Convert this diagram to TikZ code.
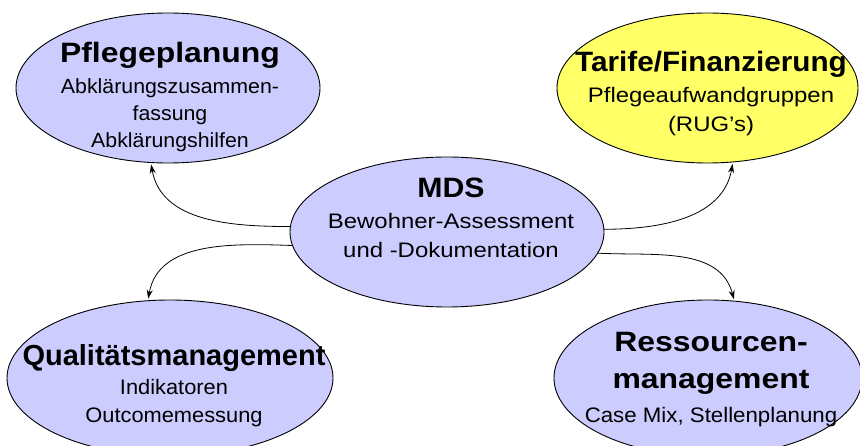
\documentclass[tikz,border=0pt]{standalone}
\usepackage{fontspec}
\setmainfont{Liberation Sans}
\newfontfamily\fA[FakeStretch=1.14]{Liberation Sans}
\newfontfamily\fB[FakeStretch=1.06]{Liberation Sans}
\newfontfamily\fC[FakeStretch=1.08]{Liberation Sans}
\newfontfamily\fD[FakeStretch=1.04]{Liberation Sans}
\usetikzlibrary{shapes.geometric,arrows.meta}
\definecolor{lav}{HTML}{CCCCFF}
\definecolor{yel}{HTML}{FFFF66}
\begin{document}
\begin{tikzpicture}[x=1pt,y=1pt,
  ell/.style={ellipse,draw=black,line width=0.9pt,inner sep=0pt,outer sep=0pt},
  ttl/.style={font=\fontsize{28}{34}\selectfont\bfseries,inner sep=0pt,anchor=base},
  bdy/.style={font=\fontsize{21}{28}\selectfont,align=center,inner sep=0pt,anchor=base},
  conn/.style={-{Stealth[length=9pt,width=6pt]},line width=0.8pt,shorten >=2pt}]
\useasboundingbox (0,0) rectangle (860,445);
% ellipses
\node[ell,fill=lav,minimum width=304pt,minimum height=150pt] (pfl) at (168,357) {};
\node[ell,fill=yel,minimum width=301pt,minimum height=150pt] (tar) at (707.5,357) {};
\node[ell,fill=lav,minimum width=314pt,minimum height=150pt] (mds) at (447,213) {};
\node[ell,fill=lav,minimum width=326pt,minimum height=156pt] (qua) at (170,67) {};
\node[ell,fill=lav,minimum width=308pt,minimum height=156pt] (res) at (708,67) {};
% texts
\node[ttl,font=\fontsize{28}{34}\fA\bfseries] (pflt) at (170,382) {Pflegeplanung};
\node[bdy,font=\fontsize{20.5}{27}\fD] (pflb) at (170,297) {Abklärungszusammen-\\fassung\\Abklärungshilfen};
\node[ttl,font=\fontsize{28}{34}\fB\bfseries] (tart) at (711,373) {Tarife/Finanzierung};
\node[bdy,font=\fontsize{21}{29}\fA] (tarb) at (711,313) {Pflegeaufwandgruppen\\(RUG’s)};
\node[ttl,font=\fontsize{28}{34}\fC\bfseries] (mdst) at (451,247) {MDS};
\node[bdy,font=\fontsize{21}{29}\fA] (mdsb) at (451,188) {Bewohner-Assessment\\und -Dokumentation};
\node[ttl,font=\fontsize{29}{34}\selectfont\bfseries] (quat) at (174,80) {Qualitätsmanagement};
\node[bdy,font=\fontsize{21}{28}\fD] (quab) at (174,23) {Indikatoren\\Outcomemessung};
\node[ttl,font=\fontsize{28}{34}\fA\bfseries] (rest) at (711,93) {Ressourcen-};
\node[ttl,font=\fontsize{28}{34}\fA\bfseries] (resm) at (711,57) {management};
\node[bdy,font=\fontsize{21}{28}\fB] (resb) at (711,23) {Case Mix, Stellenplanung};
% connectors
\draw[conn] (mds.178.5) to[out=180,in=-80] (pfl.-103.5);
\draw[conn] (mds.1.5) to[out=0,in=-100] (tar.-71);
\draw[conn] (mds.185) to[out=178,in=80] (qua.106);
\draw[conn] (mds.-8) to[out=-3,in=105] (res.71);
\end{tikzpicture}
\end{document}
